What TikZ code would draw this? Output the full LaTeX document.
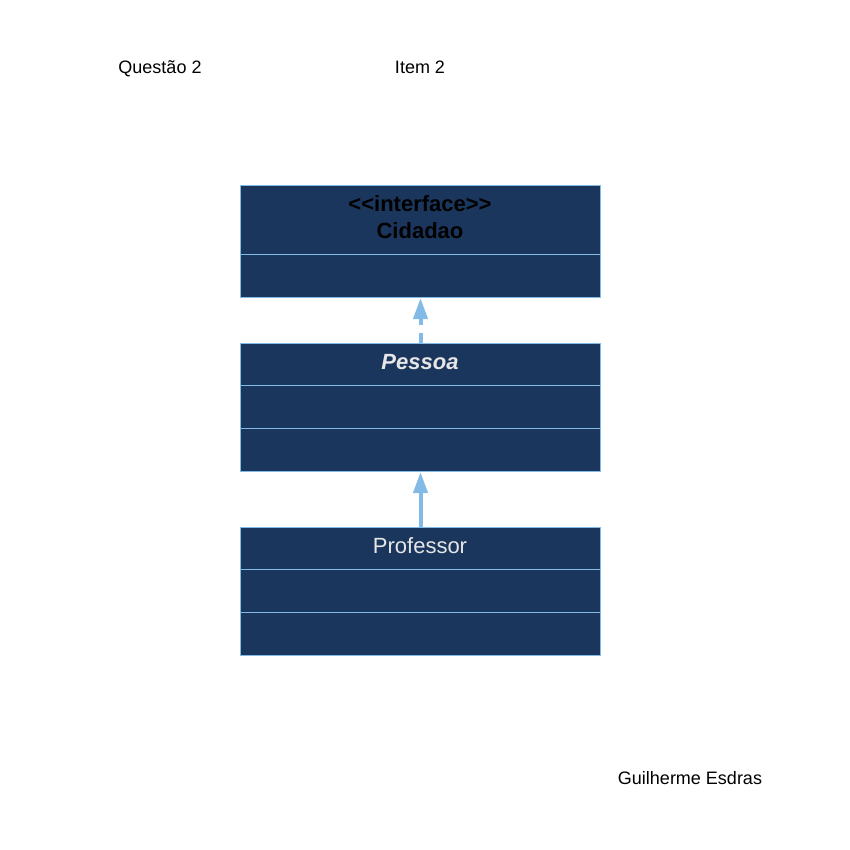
\documentclass[tikz,border=0pt]{standalone}
\usepackage{fontspec}
\setmainfont{Liberation Sans}
\usetikzlibrary{arrows.meta}
\definecolor{boxfill}{HTML}{1B365D}
\definecolor{boxline}{HTML}{84BBE6}
\definecolor{lighttext}{HTML}{E6E6E6}
\tikzset{
  classbox/.style={draw=boxline, fill=boxfill, line width=1pt, minimum width=360pt, inner sep=0pt, anchor=north west},
  divider/.style={draw=boxline, line width=1pt},
  plainlabel/.style={font=\fontsize{18}{22}\selectfont, text=black, inner sep=0pt, anchor=base},
  titletext/.style={font=\fontsize{22}{26}\selectfont, inner sep=0pt},
  realize/.style={draw=boxline, line width=4pt, dash pattern=on 10pt off 8pt, -{Triangle[length=21pt,width=14pt]}},
  inherit/.style={draw=boxline, line width=4pt, -{Triangle[length=21pt,width=14pt]}}
}
\begin{document}
\begin{tikzpicture}[x=1pt,y=-1pt]
\useasboundingbox (0,0) rectangle (850,850);

% header and footer labels
\node[plainlabel] (q) at (160,74) {Questão 2};
\node[plainlabel] (it) at (420,74) {Item 2};
\node[plainlabel] (au) at (690,784) {Guilherme Esdras};

% interface Cidadao
\node[classbox, minimum height=112pt] (cid) at (240,185) {};
\draw[divider] (240,254) -- (600,254);
\node[titletext, font=\fontsize{22}{26}\selectfont\bfseries] (cidst) at (420,204) {<\kern0pt<interface>\kern0pt>};
\node[titletext, font=\fontsize{22}{26}\selectfont\bfseries] (cidn) at (420,231) {Cidadao};

% abstract class Pessoa
\node[classbox, minimum height=128pt] (pes) at (240,343) {};
\draw[divider] (240,385) -- (600,385);
\draw[divider] (240,428) -- (600,428);
\node[titletext, text=lighttext, font=\fontsize{22}{26}\selectfont\bfseries\itshape] (pesn) at (420,362) {Pessoa};

% class Professor
\node[classbox, minimum height=128pt] (prof) at (240,527) {};
\draw[divider] (240,569) -- (600,569);
\draw[divider] (240,612) -- (600,612);
\node[titletext, text=lighttext] (profn) at (420,546) {Professor};

% relations
\draw[realize] (pes.north) -- (cid.south);
\draw[inherit] (prof.north) -- (pes.south);
\end{tikzpicture}
\end{document}
